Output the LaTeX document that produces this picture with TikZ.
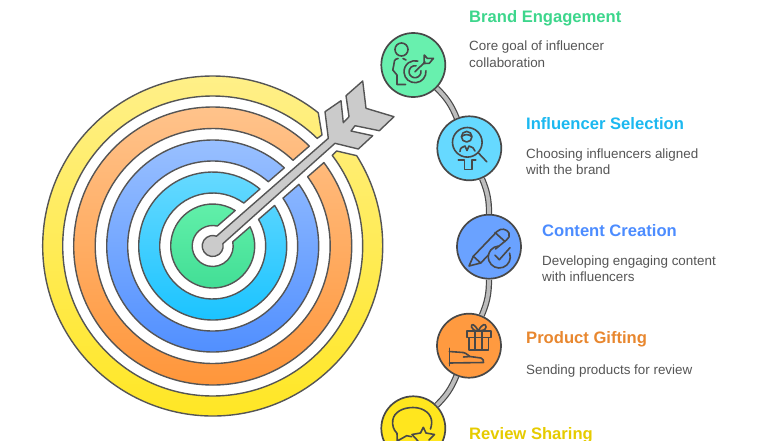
\documentclass[tikz,border=0pt]{standalone}
\usepackage{fontspec}
\setmainfont{Liberation Sans}
\definecolor{ink}{HTML}{555555}
\definecolor{icon}{HTML}{484848}
\definecolor{steel}{HTML}{CBCBCB}
\definecolor{linkgray}{HTML}{BDBDBD}
\definecolor{yT}{HTML}{FFF08C}\definecolor{yB}{HTML}{FFE61E}
\definecolor{oT}{HTML}{FFC58F}\definecolor{oB}{HTML}{FF9335}
\definecolor{bT}{HTML}{9CC2FF}\definecolor{bB}{HTML}{4C8CFF}
\definecolor{cT}{HTML}{69DAFF}\definecolor{cB}{HTML}{16C2FF}
\definecolor{gT}{HTML}{62F0AA}\definecolor{gB}{HTML}{40DD94}
\definecolor{hubG}{HTML}{68F0AE}\definecolor{hubC}{HTML}{66D9FF}
\definecolor{hubB}{HTML}{6AA2FF}\definecolor{hubO}{HTML}{FF9A40}
\definecolor{hubY}{HTML}{FFE61E}
\definecolor{tG}{HTML}{3DD68C}\definecolor{tC}{HTML}{1CB8F0}
\definecolor{tB}{HTML}{4C8CFF}\definecolor{tO}{HTML}{E8872F}
\definecolor{tY}{HTML}{E6CB00}
\tikzset{
 hub/.style={circle,minimum size=64pt,inner sep=0pt,draw=icon,line width=1.7pt},
 title/.style={anchor=base west,inner sep=0pt,font=\fontsize{16.6}{20}\selectfont\bfseries},
 desc/.style={anchor=north west,inner sep=0pt,align=left,text=ink,font=\fontsize{13.4}{16.2}\selectfont},
 link/.style={draw=icon,double=linkgray,double distance=3.8pt,line width=1.2pt,bend left=11.4},
 ringline/.style={draw=ink,line width=1.4pt,line join=round},
 ic/.style={draw=icon,line width=1.6pt,line cap=round,line join=round},
}
\newcommand{\targetring}[4]{%
 \pgfmathsetmacro{\aLo}{-41+asin(10/#1)}%
 \pgfmathsetmacro{\aLi}{-41+asin(10/#2)}%
 \pgfmathsetmacro{\aUo}{319-asin(12/#1)}%
 \pgfmathsetmacro{\aUi}{319-asin(12/#2)}%
 \draw[ringline,top color=#3,bottom color=#4]
  ([shift={(\aLo:#1)}]212.7,246) arc[start angle=\aLo,end angle=\aUo,radius=#1]
  -- ([shift={(\aUi:#2)}]212.7,246) arc[start angle=\aUi,end angle=\aLi,radius=#2] -- cycle;}
\begin{document}
\begin{tikzpicture}[x=1pt,y=-1pt]
\useasboundingbox (0,0) rectangle (780,440);
\clip (0,0) rectangle (780,440);
% target rings
\draw[ringline,top color=yT,bottom color=yB]
  ([shift={(-32.1:170)}]212.7,246) arc[start angle=-32.1,end angle=308.4,radius=170]
  -- (322,135) -- (317.3,138.3)
  -- ([shift={(314.2:150)}]212.7,246) arc[start angle=314.2,end angle=-37.2,radius=150]
  -- (336.7,151) -- cycle;
\targetring{139}{117.5}{oT}{oB}
\targetring{106}{85}{bT}{bB}
\targetring{74}{53}{cT}{cB}
\targetring{42}{20.5}{gT}{gB}
% arrow
\draw[ringline,fill=steel]
  ([shift={(-13:10.5)}]212.7,246) arc[start angle=-13,end angle=291,radius=10.5]
  -- (328.3,138.3) -- (325,111.7) -- (341,100.7) -- (343.3,122.7) -- (349,116.7)
  -- (346,95.7) -- (362.7,81) -- (366,108.3) -- (394,116.7) -- (379.3,130.7)
  -- (355,125.7) -- (351,131) -- (372.7,135.7) -- (358.3,149) -- (335,143.3) -- cycle;
% hubs
\node[hub,fill=hubG] (n1) at (413.3,65) {};
\node[hub,fill=hubC] (n2) at (469.3,148.3) {};
\node[hub,fill=hubB] (n3) at (489,246.7) {};
\node[hub,fill=hubO] (n4) at (469,345.7) {};
\node[hub,fill=hubY] (n5) at (413.3,428.3) {};
\draw[link] (n1) to (n2);
\draw[link] (n2) to (n3);
\draw[link] (n3) to (n4);
\draw[link] (n4) to (n5);
% icon 1
\draw[ic] (401.5,49.5) circle (6.5);
\draw[ic] (398,58.5) .. controls (394,59) and (394,62) .. (393.8,65) -- (392.8,70) -- (397,75) -- (397,84.5) -- (405.5,84.5);
\draw[ic] (403,58.5) -- (406,60);
\draw[ic] ([shift={(-5:11)}]415,71.7) arc[start angle=-5,end angle=285,radius=11];
\draw[ic] ([shift={(-10:6)}]415,71.7) arc[start angle=-10,end angle=280,radius=6];
\draw[ic] (415,71.7) -- (425,62);
\draw[ic] (424,63.5) -- (424.3,55) -- (427.3,58.3) -- (433.5,58.3) -- (429.3,63.3) -- cycle;
% icon 2
\draw[ic] (467.3,142.3) circle (14.8);
\draw[ic] (478,152.5) -- (486.7,161.7);
\draw[ic] (466.7,136.7) circle (5.3);
\draw[ic] (461.8,136.5) .. controls (464,134) and (469,134) .. (471.6,136.5);
\draw[ic] (460,151.5) .. controls (460,148) and (462,147) .. (465,146) -- (467,150.5) -- (469,146) .. controls (472,147) and (474.5,148) .. (475,151);
\draw[ic] (458.3,160) -- (464.5,160) -- (464.5,169.3) -- (471.7,169.3) -- (471.7,160) -- (475.8,160);
% icon 3
\draw[ic] (473.3,256.3) -- (469,266) -- (480.7,263) -- cycle;
\draw[ic] (473.3,256.3) -- (497,231.5) .. controls (501,227.5) and (507,229) .. (509,233) .. controls (510,236) and (509,238) .. (506.5,240) -- (495.5,249);
\draw[ic] (480.7,263) -- (488.5,255);
\draw[ic] (495,232.5) -- (505,241.5);
\draw[ic] ([shift={(-20:11)}]499.3,257) arc[start angle=-20,end angle=265,radius=11];
\draw[ic] (495,255.3) -- (499.3,259.7) -- (510,247.7);
% icon 4
\draw[ic] (466.8,330.8) rectangle (490.7,337.3);
\draw[ic] (469,337.3) rectangle (488.3,350);
\draw[ic] (475,330.8) -- (475,350) (481.7,330.8) -- (481.7,350);
\draw[ic] (478.3,330.8) .. controls (474,323) and (471,323.5) .. (471.5,327) .. controls (472,330) and (475,330.8) .. (478.3,330.8)
  .. controls (482.5,323) and (486,323.5) .. (486,327) .. controls (486,330) and (482,330.8) .. (478.3,330.8);
\draw[ic] (449.3,348.3) -- (449.3,365.7);
\draw[ic] (449.3,351.5) -- (463,352.5) .. controls (467,353) and (468,356) .. (470,356.5) -- (481,358) .. controls (483,358.5) and (484,361) .. (483.5,362.5) -- (449.3,363);
\draw[ic] (463.5,357) -- (470,356.5);
% icon 5
\draw[ic] (411.7,436.7) -- (406.7,435.7) -- (397.3,441) -- (397,433.3) .. controls (393.5,430) and (392,425) .. (392.8,420) .. controls (394,412) and (403,407.5) .. (413,407.5)
  .. controls (424,407.5) and (432,414) .. (431.7,423) .. controls (431.7,425) and (431,427) .. (430.5,429);
\draw[ic] (418,441) -- (412,434.5) -- (420.5,433) -- (423.3,427.3) -- (426,433) -- (434.5,434.5) -- (429,440);
% texts
\node[title,text=tG] (t1) at (469,22.5) {Brand Engagement};
\node[desc] (d1) at (469,41) {Core goal of influencer\\collaboration};
\node[title,text=tC] (t2) at (526,129) {Influencer Selection};
\node[desc] (d2) at (526,148.5) {Choosing influencers aligned\\with the brand};
\node[title,text=tB] (t3) at (542,236) {Content Creation};
\node[desc] (d3) at (542,255.5) {Developing engaging content\\with influencers};
\node[title,text=tO] (t4) at (526,343) {Product Gifting};
\node[desc] (d4) at (526,364.5) {Sending products for review};
\node[title,text=tY] (t5) at (469,439) {Review Sharing};
\end{tikzpicture}
\end{document}
